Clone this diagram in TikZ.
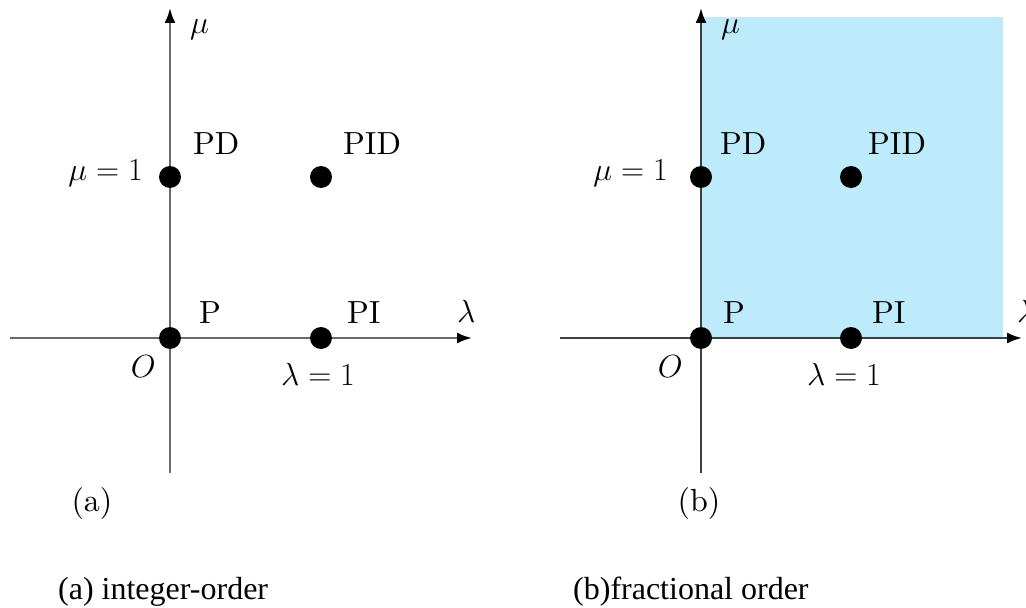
\documentclass[tikz,border=0pt]{standalone}
\usepackage{fix-cm}
\usepackage{amsmath}
\usepackage{fontspec}
\setmainfont{lmroman10-regular.otf}
\newfontfamily\capfont{Liberation Serif}
\usepackage{tikz}
\usetikzlibrary{arrows.meta, positioning, calc}
\definecolor{regionfill}{HTML}{BEEBFB}
\definecolor{axisgray}{HTML}{6A6A6A}
\definecolor{axisdark}{HTML}{3A3F44}

\begin{document}
\begin{tikzpicture}[x=1pt, y=1pt,
  axis/.style={line width=2.2pt, -{Latex[length=15pt, width=11pt, color=black]}},
  gain/.style={circle, fill=black, inner sep=0pt, minimum size=22pt},
  lbl/.style={font=\fontsize{32}{38}\selectfont, inner sep=0pt},
  caption/.style={font=\capfont\fontsize{32}{38}\selectfont, inner sep=0pt}]
  \useasboundingbox (-170,-270) rectangle (856,338);

  % (a) integer order
  \coordinate (aW) at (-160,0);
  \coordinate (aE) at (302,0);
  \coordinate (aS) at (0,-135);
  \coordinate (aN) at (0,330);
  \draw[axis, axisgray] (aW) -- (aE);
  \draw[axis, axisgray] (aS) -- (aN);
  \node[gain] (aP) at (0,0) {};
  \node[gain] (aPD) at (0,161) {};
  \node[gain] (aPID) at (151,161) {};
  \node[gain] (aPI) at (151,0) {};
  \node[lbl, anchor=base west] (aMu) at (20,304) {$\mu$};
  \node[lbl, anchor=base west] (aLam) at (287,15) {$\lambda$};
  \node[lbl, anchor=base west] (aPDl) at (23,183) {PD};
  \node[lbl, anchor=base west] (aPIDl) at (173,183) {PID};
  \node[lbl, anchor=base west] (aPl) at (29,14) {P};
  \node[lbl, anchor=base west] (aPIl) at (177,14) {PI};
  \node[lbl, anchor=base east] (aO) at (-14,-39) {$O$};
  \node[lbl, anchor=base] (aLamOne) at (148,-48) {$\lambda=1$};
  \node[lbl, anchor=base east] (aMuOne) at (-27,157) {$\mu=1$};
  \node[lbl] (aTag) at (-78,-165) {(a)};
  \node[caption, anchor=base west] (aCap) at (-112,-261) {(a) integer-order};

  % (b) fractional order
  \begin{scope}[shift={(531,0)}]
    \fill[regionfill] (0,0) rectangle (302,321);
    \coordinate (bW) at (-141,0);
    \coordinate (bE) at (321,0);
    \coordinate (bS) at (0,-135);
    \coordinate (bN) at (0,330);
    \draw[axis, axisdark] (bW) -- (bE);
    \draw[axis, axisdark] (bS) -- (bN);
    \node[gain] (bP) at (0,0) {};
    \node[gain] (bPD) at (0,161) {};
    \node[gain] (bPID) at (150,161) {};
    \node[gain] (bPI) at (150,0) {};
    \node[lbl, anchor=base west] (bMu) at (20,304) {$\mu$};
    \node[lbl, anchor=base west] (bLam) at (316,15) {$\lambda$};
    \node[lbl, anchor=base west] (bPDl) at (19,183) {PD};
    \node[lbl, anchor=base west] (bPIDl) at (167,183) {PID};
    \node[lbl, anchor=base west] (bPl) at (22,14) {P};
    \node[lbl, anchor=base west] (bPIl) at (171,14) {PI};
    \node[lbl, anchor=base east] (bO) at (-18,-39) {$O$};
    \node[lbl, anchor=base] (bLamOne) at (143,-48) {$\lambda=1$};
    \node[lbl, anchor=base east] (bMuOne) at (-33,157) {$\mu=1$};
    \node[lbl] (bTag) at (-2,-165) {(b)};
    \node[caption, anchor=base west] (bCap) at (-128,-261) {(b)fractional order};
  \end{scope}
\end{tikzpicture}
\end{document}
